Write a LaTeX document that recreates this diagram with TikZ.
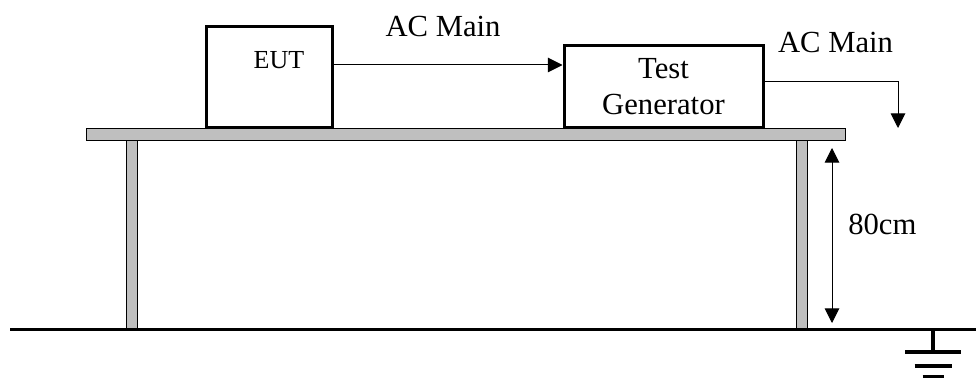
\documentclass[tikz,border=0pt]{standalone}
\usepackage{fontspec}
\setmainfont{Liberation Serif}
\usetikzlibrary{calc, arrows.meta, positioning}

\begin{document}
\begin{tikzpicture}[x=0.75pt, y=-0.75pt,
    box/.style={draw, line width=2.25pt, inner sep=0pt},
    wire/.style={line width=0.75pt, -{Triangle[length=11pt, width=11pt]}},
    wood/.style={draw, line width=0.75pt, fill=black!25},
    lbl/.style={font=\fontsize{23}{27}\selectfont, inner sep=0pt}]
  \useasboundingbox (0,0) rectangle (976,378);

  % table and floor
  \draw[wood] (126,141) rectangle (137,329);
  \draw[wood] (796,141) rectangle (807,329);
  \draw[wood] (86,129) rectangle (845,141);
  \draw[line width=2.25pt] (10,329) -- (976,329);

  % equipment
  \node[box, minimum width=94.5pt, minimum height=75.75pt] (eut) at (269,77.5) {};
  \node[font=\fontsize{19.5}{23}\selectfont, inner sep=0pt, anchor=base] (euttxt) at (279,69) {EUT};
  \node[box, lbl, align=center, minimum width=149.25pt, minimum height=61.5pt] (tg) at (663.5,87) {Test\\Generator};

  % mains wiring
  \coordinate (acin) at (0,65);
  \coordinate (acout) at (898,128);
  \draw[wire] (eut.east |- acin) -- (tg.west |- acin);
  \node[lbl, anchor=base] (acmain1) at (443,37) {AC Main};
  \draw[wire] ([yshift=4pt]tg.east) -| (acout);
  \node[lbl, anchor=base] (acmain2) at (835.5,53) {AC Main};

  % table height
  \coordinate (htop) at (832,148);
  \coordinate (hbot) at (832,323);
  \draw[line width=0.75pt, {Triangle[length=11pt, width=11pt]}-{Triangle[length=11pt, width=11pt]}] (htop) -- (hbot);
  \node[lbl, anchor=base west] (height) at (848,234) {80cm};

  % earth symbol
  \coordinate (gnd) at (933,329);
  \draw[line width=3pt] (gnd) -- ++(0,23);
  \foreach \dy/\w in {23/28, 37/18.5, 48/10.5}
    \draw[line width=3.4pt] ($(gnd)+(-\w,\dy)$) -- ($(gnd)+(\w,\dy)$);
\end{tikzpicture}
\end{document}
